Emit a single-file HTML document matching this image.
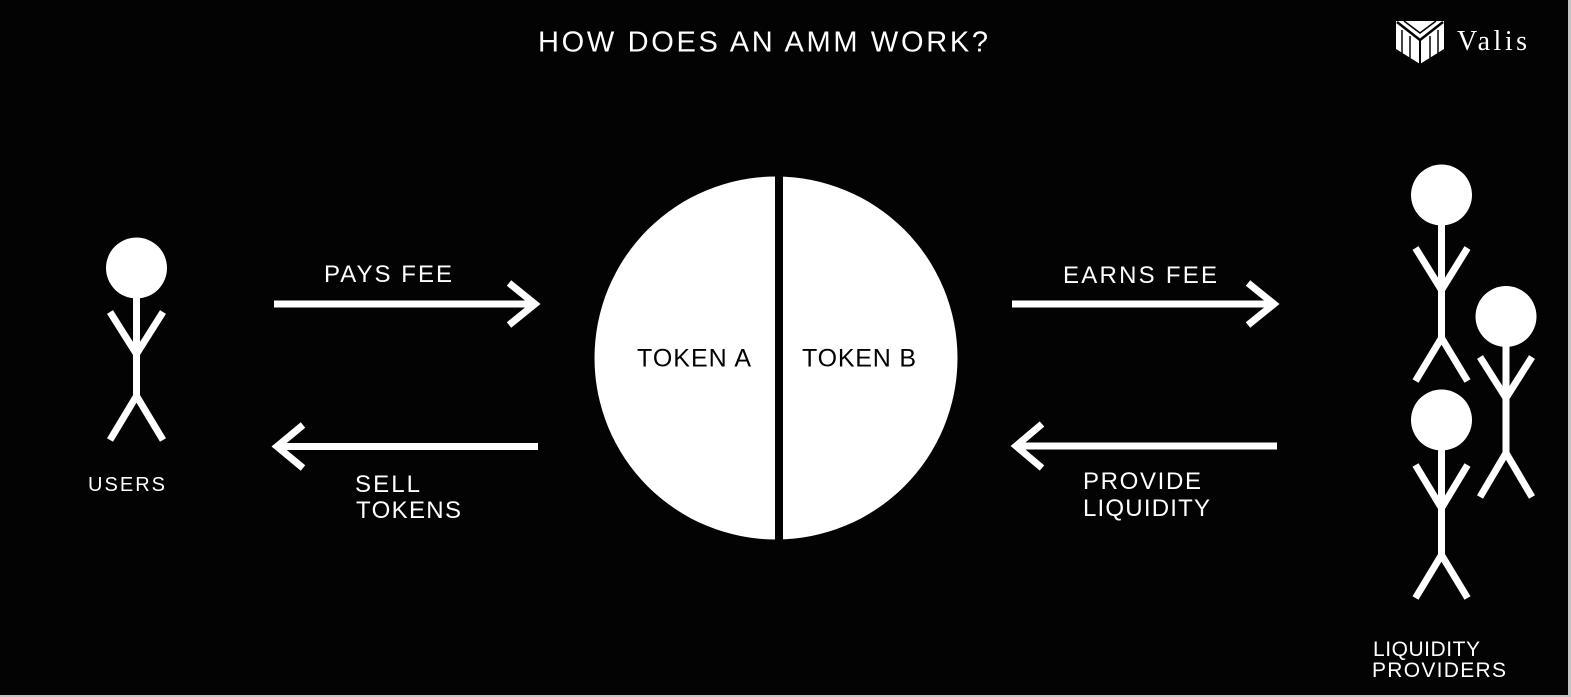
<!DOCTYPE html>
<html>
<head>
<meta charset="utf-8">
<style>
  html,body{margin:0;padding:0;background:#030303;}
  body{width:1571px;height:697px;overflow:hidden;}
  svg{display:block;}
  text{font-family:"Liberation Sans",sans-serif;fill:#fff;}
</style>
</head>
<body>
<svg width="1571" height="697" viewBox="0 0 1571 697" xmlns="http://www.w3.org/2000/svg">
  <rect x="0" y="0" width="1571" height="697" fill="#030303"/>
  <!-- edge borders -->
  <rect x="1568" y="0" width="3" height="697" fill="#c4c4c4"/>
  <rect x="0" y="695" width="1571" height="2" fill="#c4c4c4"/>

  <!-- Title -->
  <text x="538" y="51.5" font-size="29" textLength="450" lengthAdjust="spacing">HOW DOES AN AMM WORK?</text>

  <!-- Logo -->
  <g>
    <polygon points="1396,21 1444,21 1444,49 1420,64 1396,49" fill="#fff"/>
    <polyline points="1397,22 1420,40 1443,22" fill="none" stroke="#030303" stroke-width="2.5"/>
    <polyline points="1404,21 1420,33 1436,21" fill="none" stroke="#030303" stroke-width="1.5"/>
    <line x1="1420" y1="40" x2="1420" y2="64" stroke="#030303" stroke-width="2"/>
    <line x1="1402" y1="30" x2="1402" y2="53" stroke="#030303" stroke-width="1.5"/>
    <line x1="1438" y1="30" x2="1438" y2="53" stroke="#030303" stroke-width="1.5"/>
    <line x1="1410" y1="36" x2="1410" y2="58" stroke="#030303" stroke-width="1.5"/>
    <line x1="1430" y1="36" x2="1430" y2="58" stroke="#030303" stroke-width="1.5"/>
  </g>
  <text x="1457" y="50" font-size="28" textLength="70" lengthAdjust="spacing" style="font-family:'Liberation Serif',serif;">Valis</text>

  <!-- Stick figure styles -->
  <g stroke="#fff" stroke-width="7" fill="none" stroke-linecap="butt" stroke-linejoin="miter">
    <!-- User -->
    <line x1="136.5" y1="296" x2="136.5" y2="396"/>
    <polyline points="110,312 136.5,354 163,312"/>
    <polyline points="110,440 136.5,396 163,440"/>
    <!-- LP 1 -->
    <line x1="1441.5" y1="224" x2="1441.5" y2="338"/>
    <polyline points="1415.5,248 1441.5,290 1467.5,248"/>
    <polyline points="1415.5,381 1441.5,338 1467.5,381"/>
    <!-- LP 2 -->
    <line x1="1506" y1="345" x2="1506" y2="453"/>
    <polyline points="1480,357 1506,398 1532,357"/>
    <polyline points="1480,497 1506,453 1532,497"/>
    <!-- LP 3 -->
    <line x1="1441.5" y1="449" x2="1441.5" y2="555"/>
    <polyline points="1415.5,465 1441.5,508 1467.5,465"/>
    <polyline points="1415.5,598 1441.5,555 1467.5,598"/>
  </g>
  <g fill="#fff">
    <circle cx="136.5" cy="268" r="30.5"/>
    <circle cx="1441.5" cy="195" r="30.5"/>
    <circle cx="1506" cy="316.5" r="30.5"/>
    <circle cx="1441.5" cy="420" r="30.5"/>
  </g>

  <!-- Pool circle -->
  <circle cx="776" cy="358" r="181.5" fill="#fff"/>
  <rect x="775" y="170" width="8" height="380" fill="#030303"/>
  <text x="637" y="366.5" font-size="25" textLength="114" lengthAdjust="spacing" style="fill:#000;">TOKEN A</text>
  <text x="802" y="366.5" font-size="25" textLength="114" lengthAdjust="spacing" style="fill:#000;">TOKEN B</text>

  <!-- Arrows -->
  <g stroke="#fff" stroke-width="7" fill="none" stroke-linecap="butt" stroke-linejoin="miter">
    <line x1="274" y1="304" x2="535" y2="304"/>
    <polyline points="509,283 535,304 509,325"/>
    <line x1="277" y1="446.5" x2="538" y2="446.5"/>
    <polyline points="303,425 277,446.5 303,468"/>
    <line x1="1012" y1="304" x2="1274" y2="304"/>
    <polyline points="1248,283 1274,304 1248,325"/>
    <line x1="1016" y1="446" x2="1277" y2="446"/>
    <polyline points="1042,424 1016,446 1042,468"/>
  </g>

  <!-- Labels -->
  <text x="324" y="282" font-size="24" textLength="128" lengthAdjust="spacing">PAYS FEE</text>
  <text x="355" y="492" font-size="24" textLength="65" lengthAdjust="spacing">SELL</text>
  <text x="356" y="518" font-size="24" textLength="105" lengthAdjust="spacing">TOKENS</text>
  <text x="1063" y="283" font-size="24" textLength="154" lengthAdjust="spacing">EARNS FEE</text>
  <text x="1083" y="489" font-size="24" textLength="118" lengthAdjust="spacing">PROVIDE</text>
  <text x="1083" y="516" font-size="24" textLength="127" lengthAdjust="spacing">LIQUIDITY</text>
  <text x="88" y="491" font-size="20" textLength="77" lengthAdjust="spacing">USERS</text>
  <text x="1373" y="656" font-size="21" textLength="107" lengthAdjust="spacing">LIQUIDITY</text>
  <text x="1372" y="677" font-size="21" textLength="134" lengthAdjust="spacing">PROVIDERS</text>
</svg>
</body>
</html>
